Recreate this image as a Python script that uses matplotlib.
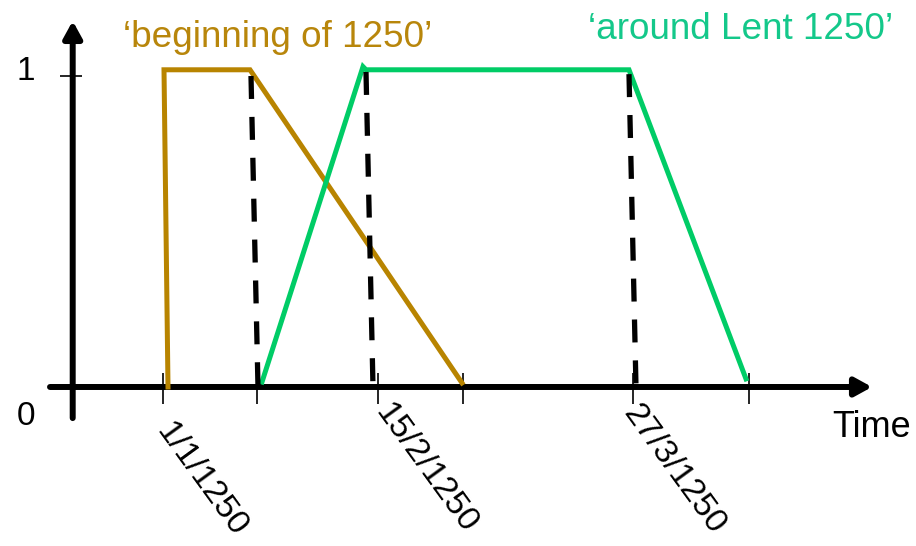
import matplotlib
matplotlib.use("Agg")
import matplotlib.pyplot as plt

# ---------------- data (schematic time units along x, membership along y) -------------
tick_pos = [163, 257, 378, 463, 633, 749]
tick_labels = ['1/1/1250', '', '15/2/1250', '', '27/3/1250', '']

brown_x = [168, 164, 250, 462]          # 'beginning of 1250'
brown_y = [0.0, 1.02, 1.02, 0.013]

green_x = [262, 363, 366, 629, 746]     # 'around Lent 1250'
green_y = [0.016, 1.03, 1.02, 1.02, 0.026]

dash_x_top = [251, 366, 629]            # dashed support/core boundaries
dash_x_bot = [258, 373, 636]
dash_y_top = [1.0, 1.013, 1.006]

brown_label = '\u2018beginning of 1250\u2019'
green_label = '\u2018around Lent 1250\u2019'
y_labels = ['0', '1']
x_axis_label = 'Time'

# ---------------- style -----------------------------------------------------------------
BROWN = '#B88400'
BROWN_TXT = '#B8860B'
GREEN = '#00CC66'
GREEN_TXT = '#14C88A'
FONT = ['Liberation Sans', 'DejaVu Sans']
plt.rcParams['font.family'] = FONT

fig = plt.figure(figsize=(9.16, 5.46), dpi=100)
ax = fig.add_axes([0, 0, 1, 1])
ax.set_xlim(0, 916)
ax.set_ylim(-0.5113, 1.2444)
ax.axis('off')

# axes with arrows
ax.annotate('', xy=(872, 0), xytext=(50, 0),
            arrowprops=dict(arrowstyle='-|>,head_length=10,head_width=5.5', lw=4.3,
                            color='black', shrinkA=0, shrinkB=0, mutation_scale=1),
            zorder=1)
ax.annotate('', xy=(72.7, 1.177), xytext=(72.7, -0.1),
            arrowprops=dict(arrowstyle='-|>,head_length=10,head_width=5.5', lw=4.3,
                            color='black', shrinkA=0, shrinkB=0, mutation_scale=1),
            zorder=1)

# ticks
ax.vlines(tick_pos, -0.055, 0.045, color='black', lw=1.2, zorder=1)
ax.hlines(1.0, 60, 82, color='black', lw=1.2, zorder=1)

# membership functions
ax.plot(brown_x, brown_y, color=BROWN, lw=3.6, solid_joinstyle='miter', zorder=2)
ax.plot(green_x, green_y, color=GREEN, lw=3.6, solid_joinstyle='miter', zorder=2)

# dashed lines
for xt, xb, yt in zip(dash_x_top, dash_x_bot, dash_y_top):
    ax.plot([xt, xb], [yt, 0], color='black', lw=3.8,
            linestyle=(0, (4.35, 3.4)), dash_capstyle='butt', zorder=3)

# texts
ax.text(123, (387 - 47) / 311, brown_label, color=BROWN_TXT, fontsize=26.6,
        ha='left', va='baseline')
ax.text(588, (387 - 38.5) / 311, green_label, color=GREEN_TXT, fontsize=26.6,
        ha='left', va='baseline')
ax.text(832, (387 - 437) / 311, x_axis_label, fontsize=26, ha='left', va='baseline')
ax.text(26, (387 - 416.7) / 311, y_labels[0], fontsize=24, ha='center', va='center')
ax.text(26, (387 - 71) / 311, y_labels[1], fontsize=24, ha='center', va='center')

# rotated tick labels: start point per label (layout)
label_start_dx = [-1, 0, 3, 0, -4, 0]
label_start_y = [426, 0, 407, 0, 408, 0]
for x, lab, dx, ys in zip(tick_pos, tick_labels, label_start_dx, label_start_y):
    if lab:
        ax.text(x + dx, (387 - ys) / 311, lab, fontsize=24.5, rotation=-54,
                rotation_mode='anchor', ha='left', va='center')

fig.savefig('out.png', dpi=100)
